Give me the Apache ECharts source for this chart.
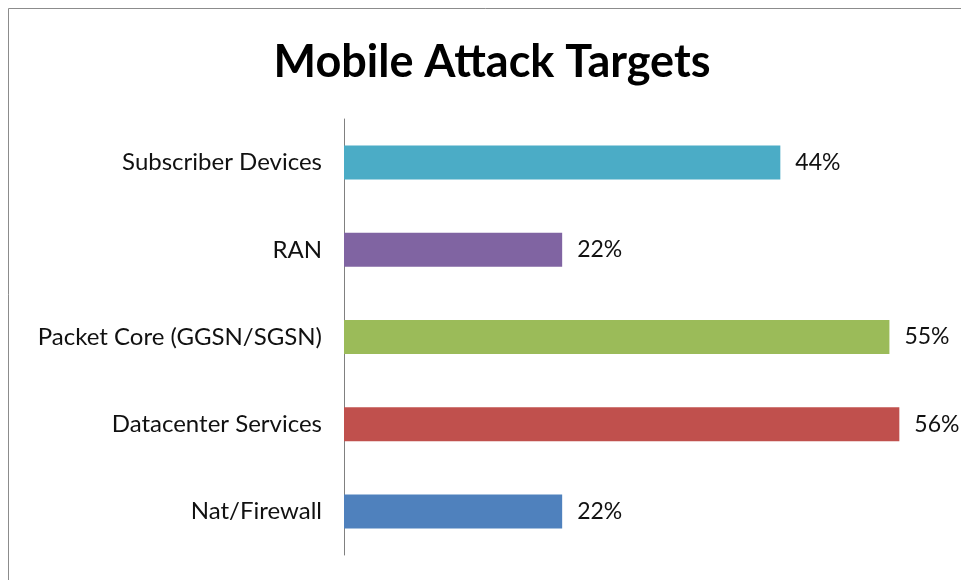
<!DOCTYPE html>
<html>
<head>
<meta charset="utf-8">
<script src="https://cdn.jsdelivr.net/npm/echarts@6/dist/echarts.min.js"></script>
<style>
  html, body { margin: 0; padding: 0; background: #fff; }
  #chart { width: 961px; height: 580px; }
</style>
</head>
<body>
<div id="chart"></div>
<script>
// Attack targets, listed top to bottom as shown
const categories = ['Subscriber Devices', 'RAN', 'Packet Core (GGSN/SGSN)', 'Datacenter Services', 'Nat/Firewall'];
const percentages = [44, 22, 55, 56, 22];
const barColors = ['#4BACC6', '#8064A2', '#9BBB59', '#C0504D', '#4F81BD'];

const FONT = 'Lato, "Open Sans", sans-serif';

const chart = echarts.init(document.getElementById('chart'), null, { renderer: 'canvas' });

chart.setOption({
  backgroundColor: '#ffffff',
  animation: false,
  title: {
    text: 'Mobile Attack Targets',
    left: 487,
    textAlign: 'center',
    top: 35,
    textStyle: { fontFamily: FONT, fontWeight: 'bold', fontSize: 45, color: '#000' }
  },
  graphic: [{
    type: 'rect',
    shape: { x: 8.5, y: 8.5, width: 1000, height: 1000 },
    style: { fill: 'none', stroke: '#8c8c8c', lineWidth: 1 },
    silent: true
  }],
  grid: { left: 344, right: 22, top: 119, bottom: 25, containLabel: false },
  xAxis: {
    type: 'value',
    min: 0,
    max: 60,
    show: false
  },
  yAxis: {
    type: 'category',
    data: categories,
    inverse: true,
    axisLine: { show: true, lineStyle: { color: '#808080', width: 1 } },
    axisTick: { show: false },
    axisLabel: { fontFamily: FONT, fontSize: 24, color: '#111', margin: 22 }
  },
  series: [{
    type: 'bar',
    data: percentages.map((v, i) => ({ value: v, itemStyle: { color: barColors[i] } })),
    barWidth: '39%',
    label: {
      show: true,
      position: 'right',
      distance: 15,
      formatter: p => p.value + '%',
      fontFamily: FONT,
      fontSize: 23,
      color: '#111'
    }
  }]
});
</script>
</body>
</html>
